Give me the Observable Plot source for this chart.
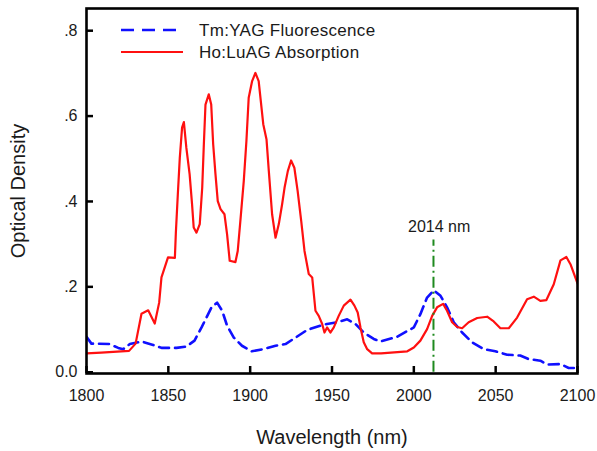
<!DOCTYPE html>
<html>
<head>
<meta charset="utf-8">
<script src="https://cdn.jsdelivr.net/npm/d3@7"></script>
<script src="https://cdn.jsdelivr.net/npm/@observablehq/plot@0.6"></script>
<style>
  html, body { margin: 0; padding: 0; background: #fff; }
  #wrap { position: relative; width: 597px; height: 451px; font-family: "Liberation Sans", Arial, sans-serif; }
  #legend { position: absolute; left: 0; top: 0; pointer-events: none; }
</style>
</head>
<body>
<div id="wrap"></div>
<script>
// ---- data ----
const hoNm = [1800,1809,1826,1830,1833.6,1837.7,1841.7,1844.4,1845.8,1849.8,1854,1854.6,1855.8,1857,1858.4,1859.5,1861,1863,1864.5,1865.5,1867.2,1869.2,1870.7,1871.7,1872.7,1874.7,1876.2,1877.4,1878.8,1880.2,1881.9,1884.3,1885.9,1887.5,1891,1892.4,1894,1896.1,1897.7,1899.1,1901.2,1903.2,1905.2,1908,1910,1911.4,1913.4,1915.5,1917.5,1919.5,1921,1923,1925,1927,1929,1931.2,1933.2,1935.8,1937.9,1939.9,1941.9,1944,1945.4,1947,1949,1951.1,1954.1,1957.2,1961.3,1963.7,1965.7,1967.4,1969.4,1971.5,1974.5,1980,1986,1996,2000,2004,2008.1,2011.2,2014.2,2017.9,2020.3,2023.4,2026.5,2029.5,2033.5,2038.7,2044.8,2048.8,2052.9,2058,2063.1,2069.2,2073.3,2077.3,2081,2085.5,2089.6,2093.2,2095.7,2100];
const hoOD = [.044,.046,.050,.067,.137,.145,.114,.163,.222,.269,.268,.327,.417,.502,.573,.586,.526,.464,.393,.339,.327,.347,.432,.534,.627,.651,.627,.534,.464,.401,.382,.370,.323,.261,.258,.284,.354,.448,.541,.643,.682,.701,.682,.581,.545,.471,.370,.315,.347,.393,.432,.471,.496,.479,.425,.354,.284,.230,.222,.144,.132,.113,.093,.105,.093,.105,.132,.156,.170,.156,.140,.105,.070,.054,.044,.044,.046,.049,.058,.074,.101,.132,.152,.160,.144,.117,.106,.103,.117,.127,.130,.119,.103,.103,.128,.171,.177,.167,.169,.206,.262,.270,.253,.208];

const tmNm = [1800,1803,1814,1819.4,1822.4,1826.5,1833.6,1840.7,1845.8,1855,1861,1866,1870.3,1876.4,1879.8,1882.9,1885.9,1890,1895,1901,1908,1915.5,1921.6,1927.7,1934.8,1942.9,1947,1953,1959.3,1964.3,1969.4,1975.5,1979.6,1989.8,2000,2004,2008.1,2012.2,2016.3,2020.3,2024.4,2029.5,2035.6,2042.7,2049.8,2057,2065,2070,2077.3,2081.4,2089.6,2094.6,2100];
const tmOD = [.083,.067,.066,.057,.054,.066,.072,.064,.057,.057,.060,.074,.105,.152,.163,.144,.109,.081,.062,.049,.054,.062,.066,.081,.099,.109,.113,.117,.124,.113,.093,.078,.072,.083,.105,.136,.175,.192,.179,.152,.117,.093,.070,.054,.049,.041,.039,.031,.027,.018,.019,.010,.010];

const markerNm = [2012];
const markerTop = [0.31];
const markerLabel = ["2014 nm"];
const markerLabelNm = [2015.5];
const markerLabelOD = [0.34];

const xTicks = [1800, 1850, 1900, 1950, 2000, 2050, 2100];
const xTickLabels = ["1800", "1850", "1900", "1950", "2000", "2050", "2100"];
const yTicks = [0, 0.2, 0.4, 0.6, 0.8];
const yTickLabels = ["0.0", ".2", ".4", ".6", ".8"];

const seriesNames = ["Tm:YAG Fluorescence", "Ho:LuAG Absorption"];
const xTitle = "Wavelength (nm)";
const yTitle = "Optical Density";

// ---- tables ----
const ho = hoNm.map((x, i) => ({x, y: hoOD[i]}));
const tm = tmNm.map((x, i) => ({x, y: tmOD[i]}));
const marker = markerNm.map((x, i) => ({x, top: markerTop[i], label: markerLabel[i], lx: markerLabelNm[i], ly: markerLabelOD[i]}));

const W = 597, H = 451;
const mL = 86, mR = 20, mT = 8, mB = 78;
const plotW = W - mL - mR, plotH = H - mT - mB;
const font = "'Liberation Sans', Arial, sans-serif";
const ink = "#1a1a1a";

const chart = Plot.plot({
  width: W,
  height: H,
  marginLeft: mL,
  marginRight: mR,
  marginTop: mT,
  marginBottom: mB,
  style: {fontFamily: font, background: "#fff", color: ink},
  x: {domain: [1800, 2100]},
  y: {domain: [-0.003, 0.852]},
  marks: [
    Plot.line(tm, {x: "x", y: "y", stroke: "#1010ff", strokeWidth: 2.6, strokeDasharray: "10,6", clip: true}),
    Plot.line(ho, {x: "x", y: "y", stroke: "#ff1010", strokeWidth: 2.2, clip: true}),
    Plot.ruleX(marker, {x: "x", y1: 0, y2: "top", stroke: "#1f8a1f", strokeWidth: 2, strokeDasharray: "11,4,2,4"}),
    Plot.text(marker, {x: "lx", y: "ly", text: "label", fontSize: 16, fill: ink}),
    Plot.tickX(xTicks, {x: d => d, insetTop: plotH - 7, stroke: "black", strokeWidth: 2.5}),
    Plot.tickY(yTicks, {y: d => d, insetRight: plotW - 7, stroke: "black", strokeWidth: 2.5}),
    Plot.axisX(xTicks, {tickSize: 0, tickPadding: 16, fontSize: 16, fill: ink,
      tickFormat: d => xTickLabels[xTicks.indexOf(d)],
      label: xTitle, labelAnchor: "center", labelOffset: 70, labelArrow: "none"}),
    Plot.axisY(yTicks, {tickSize: 0, tickPadding: 9, fontSize: 16, fill: ink,
      tickFormat: d => yTickLabels[yTicks.indexOf(d)],
      label: yTitle, labelAnchor: "center", labelOffset: 76, labelArrow: "none"}),
    Plot.frame({stroke: "black", strokeWidth: 2.6})
  ]
});

// enlarge axis titles
chart.querySelectorAll("[aria-label='x-axis label'], [aria-label='y-axis label']").forEach(g => {
  g.setAttribute("font-size", 20);
  g.querySelectorAll("text").forEach(t => t.setAttribute("font-size", 20));
});

const wrap = document.getElementById("wrap");
wrap.appendChild(chart);

// legend overlay
const ns = "http://www.w3.org/2000/svg";
const leg = document.createElementNS(ns, "svg");
leg.setAttribute("id", "legend");
leg.setAttribute("width", W);
leg.setAttribute("height", 80);
const legendItems = [
  {name: seriesNames[0], stroke: "#1010ff", dash: "13,8", width: 2.6, x2: 177, y: 30},
  {name: seriesNames[1], stroke: "#ff1010", dash: null, width: 2.2, x2: 183, y: 52}
];
legendItems.forEach(it => {
  const l = document.createElementNS(ns, "line");
  l.setAttribute("x1", 121); l.setAttribute("x2", it.x2);
  l.setAttribute("y1", it.y); l.setAttribute("y2", it.y);
  l.setAttribute("stroke", it.stroke); l.setAttribute("stroke-width", it.width);
  if (it.dash) l.setAttribute("stroke-dasharray", it.dash);
  leg.appendChild(l);
  const t = document.createElementNS(ns, "text");
  t.setAttribute("x", 199); t.setAttribute("y", it.y + 6);
  t.setAttribute("font-size", 17);
  t.setAttribute("font-family", font);
  t.setAttribute("fill", ink);
  t.setAttribute("letter-spacing", "0.3");
  t.textContent = it.name;
  leg.appendChild(t);
});
wrap.appendChild(leg);
</script>
</body>
</html>
